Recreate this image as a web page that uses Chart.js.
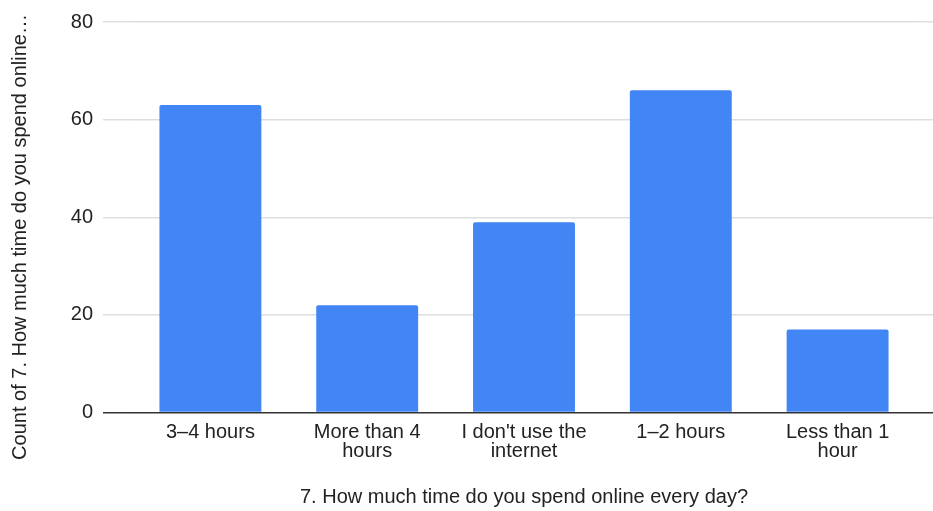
<!DOCTYPE html>
<html>
<head>
<meta charset="utf-8">
<script src="https://cdn.jsdelivr.net/npm/chart.js@4"></script>
<style>
  html, body { margin: 0; padding: 0; background: #fff; }
  .chart { width: 933px; height: 511px; }
</style>
</head>
<body>
<div class="chart"><canvas id="myChart" width="933" height="511"></canvas></div>
<script>
// answers to question 7, in the order they appear in the sheet
const categories = ["3–4 hours", "More than 4 hours", "I don't use the internet", "1–2 hours", "Less than 1 hour"];
const tickLabels = [["3–4 hours"], ["More than 4", "hours"], ["I don't use the", "internet"], ["1–2 hours"], ["Less than 1", "hour"]];
const counts = [63, 22, 39, 66, 17];
const yTicks = [0, 20, 40, 60, 80];

const xTitle = "7. How much time do you spend online every day?";
const yTitle = "Count of 7. How much time do you spend online…";

const font = "Arial, 'Liberation Sans', sans-serif";
const gridColor = "#dedede";
const axisColor = "#333";
const gridWidth = 1.5;

// same pixel snapping Chart.js uses for its grid lines
function alignPixel(pixel, width) {
  const half = width / 2;
  return Math.round(pixel - half) + half;
}

// 🔹 stretch the y grid lines out to the right edge of the canvas
const gridExtend = {
  id: "gridExtend",
  beforeDatasetsDraw(chart) {
    const { ctx, chartArea, scales } = chart;
    ctx.save();
    ctx.lineWidth = gridWidth;
    yTicks.forEach((v) => {
      const y = alignPixel(scales.y.getPixelForValue(v), gridWidth);
      ctx.strokeStyle = v === 0 ? axisColor : gridColor;
      ctx.beginPath();
      ctx.moveTo(chartArea.right, y);
      ctx.lineTo(chart.width, y);
      ctx.stroke();
    });
    ctx.restore();
  }
};

// 🔹 rotated y title, placed lower than the scale would put it
const yTitlePlugin = {
  id: "yTitlePlugin",
  afterDraw(chart) {
    const { ctx } = chart;
    ctx.save();
    ctx.translate(20, 237);
    ctx.rotate(-Math.PI / 2);
    ctx.font = "20px " + font;
    ctx.fillStyle = "#222";
    ctx.textAlign = "center";
    ctx.textBaseline = "middle";
    ctx.fillText(yTitle, 0, 0);
    ctx.restore();
  }
};

const ctx = document.getElementById("myChart").getContext("2d");

new Chart(ctx, {
  type: "bar",
  data: {
    labels: tickLabels,
    datasets: [{
      label: "Count",
      data: counts,
      backgroundColor: "#4285f4",
      borderRadius: { topLeft: 2, topRight: 2 },
      borderSkipped: "bottom",
      categoryPercentage: 1,
      barPercentage: 0.65
    }]
  },
  options: {
    responsive: false,
    animation: false,
    devicePixelRatio: 1,
    layout: {
      padding: { top: 22, right: 17, bottom: 0, left: 0 }
    },
    plugins: {
      legend: { display: false },
      tooltip: { enabled: false }
    },
    scales: {
      x: {
        grid: { display: false, drawTicks: false },
        border: { display: false },
        ticks: {
          color: "#222",
          padding: 10,
          maxRotation: 0,
          autoSkip: false,
          font: { family: font, size: 20, lineHeight: 0.97 }
        },
        title: {
          display: true,
          text: xTitle,
          color: "#222",
          padding: { top: 0, bottom: 4 },
          font: { family: font, size: 20, lineHeight: 1 }
        },
        afterFit: (s) => { s.height = 98.4; }
      },
      y: {
        min: 0,
        max: 80,
        border: { display: false },
        grid: {
          color: (c) => (c.tick && c.tick.value === 0 ? axisColor : gridColor),
          lineWidth: gridWidth,
          tickLength: 29
        },
        ticks: {
          stepSize: 20,
          color: "#222",
          padding: 10,
          font: { family: font, size: 20 }
        },
        afterFit: (s) => { s.width = 132; }
      }
    }
  },
  plugins: [gridExtend, yTitlePlugin]
});
</script>
</body>
</html>
